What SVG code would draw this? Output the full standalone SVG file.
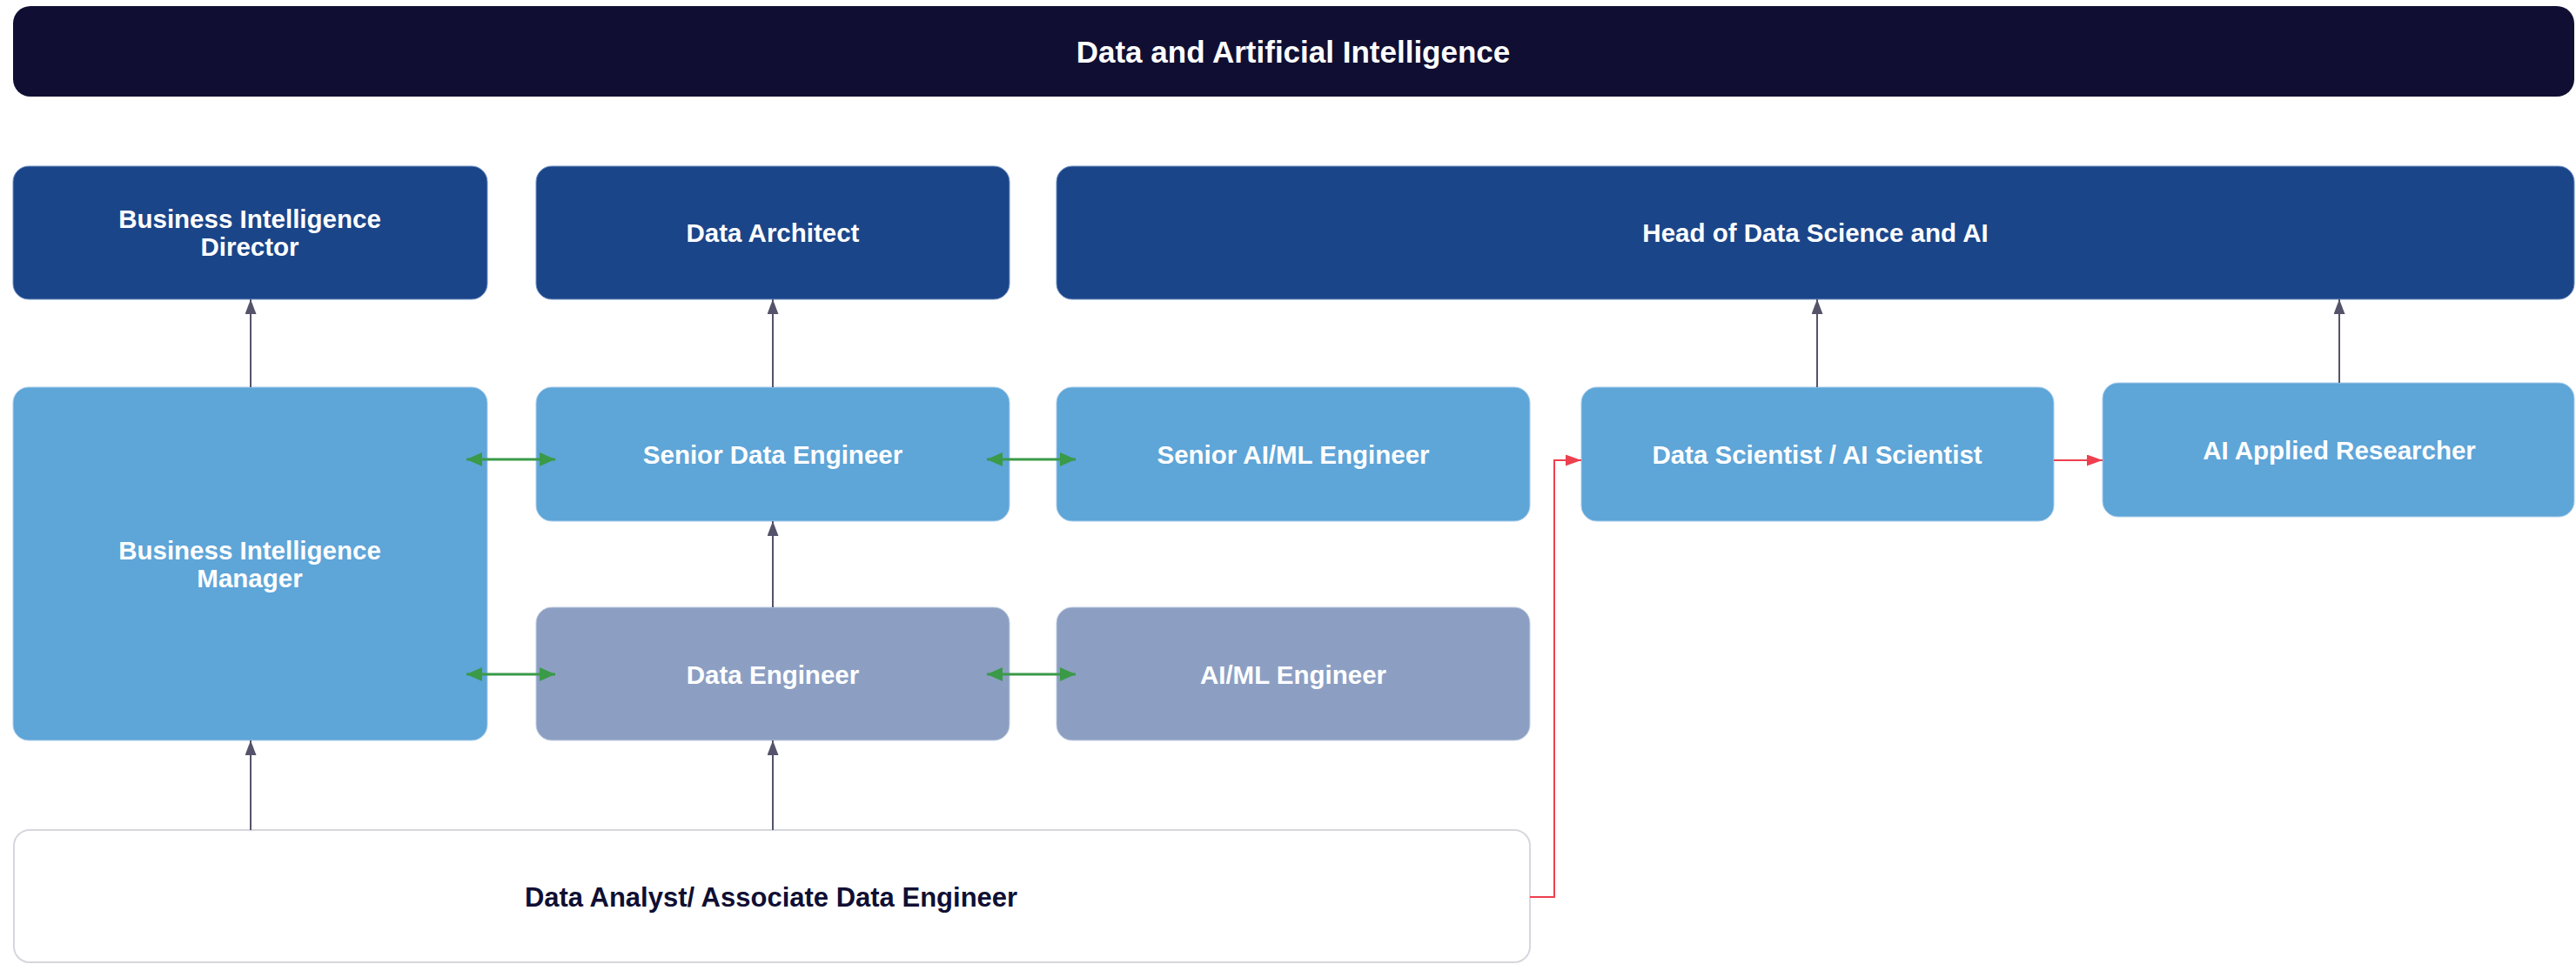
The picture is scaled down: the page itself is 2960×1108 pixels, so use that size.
<svg xmlns="http://www.w3.org/2000/svg" width="2960" height="1108" viewBox="0 0 2960 1108">
<style>
.t{font-family:"Liberation Sans",Arial,sans-serif;font-weight:bold;font-size:29.5px;fill:#ffffff;text-anchor:middle}
.dark{fill:#1b4589;stroke:#6f8fc2;stroke-width:1}
.light{fill:#5ea5d8;stroke:#a9cdea;stroke-width:1}
.mid{fill:#8c9fc3;stroke:#c2cde0;stroke-width:1}
.white{fill:#ffffff;stroke:#d6d6de;stroke-width:2}
.gray{stroke:#55536a;stroke-width:2;fill:none}
.green{stroke:#3a9a48;stroke-width:3;fill:none}
.red{stroke:#ee3f4e;stroke-width:2;fill:none}
</style>
<defs>
<marker id="mg" markerUnits="userSpaceOnUse" markerWidth="17" markerHeight="13" refX="17" refY="6.5" orient="auto"><path d="M0,0 L17,6.5 L0,13 z" fill="#55536a"/></marker>
<marker id="mgr" markerUnits="userSpaceOnUse" markerWidth="18" markerHeight="16" refX="18" refY="8" orient="auto-start-reverse"><path d="M0,0 L18,8 L0,16 z" fill="#3a9a48"/></marker>
<marker id="mr" markerUnits="userSpaceOnUse" markerWidth="18" markerHeight="13" refX="18" refY="6.5" orient="auto"><path d="M0,0 L18,6.5 L0,13 z" fill="#ee3f4e"/></marker>
</defs>
<rect width="2960" height="1108" fill="#ffffff"/>
<g id="title">
<rect x="15" y="7" width="2943" height="104" rx="20" fill="#100f33"/>
<text class="t" x="1486" y="72" style="font-size:35px">Data and Artificial Intelligence</text>
</g>
<g id="bi-director">
<rect class="dark" x="15" y="191" width="545" height="153" rx="18"/>
<text class="t" x="287" y="262">Business Intelligence</text>
<text class="t" x="287" y="294">Director</text>
</g>
<g id="data-architect">
<rect class="dark" x="616" y="191" width="544" height="153" rx="18"/>
<text class="t" x="888" y="278">Data Architect</text>
</g>
<g id="head-ds-ai">
<rect class="dark" x="1214" y="191" width="1744" height="153" rx="18"/>
<text class="t" x="2086" y="278">Head of Data Science and AI</text>
</g>
<g id="bi-manager">
<rect class="light" x="15" y="445" width="545" height="406" rx="18"/>
<text class="t" x="287" y="643">Business Intelligence</text>
<text class="t" x="287" y="675">Manager</text>
</g>
<g id="senior-data-engineer">
<rect class="light" x="616" y="445" width="544" height="154" rx="18"/>
<text class="t" x="888" y="533">Senior Data Engineer</text>
</g>
<g id="senior-aiml-engineer">
<rect class="light" x="1214" y="445" width="544" height="154" rx="18"/>
<text class="t" x="1486" y="533">Senior AI/ML Engineer</text>
</g>
<g id="data-scientist">
<rect class="light" x="1817" y="445" width="543" height="154" rx="18"/>
<text class="t" x="2088" y="533">Data Scientist / AI Scientist</text>
</g>
<g id="ai-applied-researcher">
<rect class="light" x="2416" y="440" width="542" height="154" rx="18"/>
<text class="t" x="2688" y="528">AI Applied Researcher</text>
</g>
<g id="data-engineer">
<rect class="mid" x="616" y="698" width="544" height="153" rx="18"/>
<text class="t" x="888" y="786">Data Engineer</text>
</g>
<g id="aiml-engineer">
<rect class="mid" x="1214" y="698" width="544" height="153" rx="18"/>
<text class="t" x="1486" y="786">AI/ML Engineer</text>
</g>
<g id="data-analyst">
<rect class="white" x="16" y="954" width="1742" height="152" rx="18"/>
<text class="t" x="886" y="1042" style="fill:#100f33;font-size:31px">Data Analyst/ Associate Data Engineer</text>
</g>
<g id="connectors">
<line class="gray" x1="288" y1="445" x2="288" y2="344" marker-end="url(#mg)"/>
<line class="gray" x1="888" y1="445" x2="888" y2="344" marker-end="url(#mg)"/>
<line class="gray" x1="888" y1="698" x2="888" y2="599" marker-end="url(#mg)"/>
<line class="gray" x1="288" y1="954" x2="288" y2="851" marker-end="url(#mg)"/>
<line class="gray" x1="888" y1="954" x2="888" y2="851" marker-end="url(#mg)"/>
<line class="gray" x1="2088" y1="445" x2="2088" y2="344" marker-end="url(#mg)"/>
<line class="gray" x1="2688" y1="440" x2="2688" y2="344" marker-end="url(#mg)"/>
<line class="green" x1="536" y1="528" x2="638" y2="528" marker-start="url(#mgr)" marker-end="url(#mgr)"/>
<line class="green" x1="536" y1="775" x2="638" y2="775" marker-start="url(#mgr)" marker-end="url(#mgr)"/>
<line class="green" x1="1134" y1="528" x2="1236" y2="528" marker-start="url(#mgr)" marker-end="url(#mgr)"/>
<line class="green" x1="1134" y1="775" x2="1236" y2="775" marker-start="url(#mgr)" marker-end="url(#mgr)"/>
<polyline class="red" points="1758,1031 1786,1031 1786,529 1817,529" marker-end="url(#mr)"/>
<line class="red" x1="2360" y1="529" x2="2416" y2="529" marker-end="url(#mr)"/>
</g>
</svg>
